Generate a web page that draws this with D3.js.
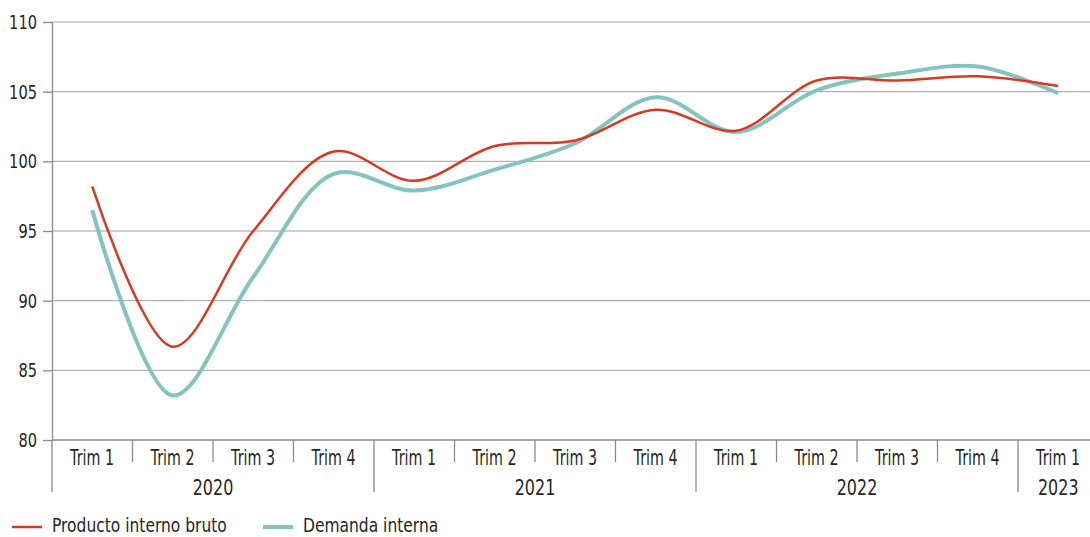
<!DOCTYPE html>
<html>
<head>
<meta charset="utf-8">
<script src="https://cdn.jsdelivr.net/npm/d3@7"></script>
<style>
  body { margin: 0; background: #fff; }
  svg text { font-family: "DejaVu Sans", sans-serif; fill: #262626; transform-box: fill-box; }
  .lab-end { transform-origin: right center; }
  .lab-mid { transform-origin: center center; }
  .lab-start { transform-origin: left center; }
</style>
</head>
<body>
<div id="chart"></div>
<script>
(function() {

var quarters = ["Trim 1","Trim 2","Trim 3","Trim 4","Trim 1","Trim 2","Trim 3","Trim 4","Trim 1","Trim 2","Trim 3","Trim 4","Trim 1"];
var years = ["2020","2021","2022","2023"];
var yearSizes = [4, 4, 4, 1];
var pib = [98.2, 86.7, 95.0, 100.7, 98.6, 101.1, 101.5, 103.7, 102.2, 105.8, 105.8, 106.1, 105.4];
var demanda = [96.5, 83.2, 91.7, 99.1, 97.9, 99.4, 101.3, 104.6, 102.1, 105.1, 106.3, 106.8, 104.9];
var yTicks = [80, 85, 90, 95, 100, 105, 110];
var seriesNames = ["Producto interno bruto", "Demanda interna"];
var seriesColors = ["#d8391f", "#85c3bf"];

var width = 1090, height = 537;
var left = 52, bandW = 80.5;

var idx = d3.range(quarters.length);

var x = d3.scaleBand()
    .domain(idx)
    .range([left, left + bandW * quarters.length])
    .padding(0);

var y = d3.scaleLinear()
    .domain([80, 110])
    .range([440, 22]);

var svg = d3.select("#chart").append("svg")
    .attr("width", width)
    .attr("height", height);

// grid
svg.append("g")
  .selectAll("line")
    .data(yTicks.slice(1))
  .enter().append("line")
    .attr("x1", left)
    .attr("x2", width)
    .attr("y1", function(d) { return y(d); })
    .attr("y2", function(d) { return y(d); })
    .style("stroke", "#a0a0a0")
    .style("stroke-width", 1);

// y axis
var yAxis = svg.append("g")
    .attr("transform", "translate(" + left + ",0)")
    .call(d3.axisLeft(y).tickValues(yTicks).tickSize(9).tickSizeOuter(0).tickPadding(6));
yAxis.attr("font-family", null).attr("font-size", null);
yAxis.select(".domain").style("stroke", "#8a8a8a").style("stroke-width", 1.3);
yAxis.selectAll(".tick line").style("stroke", "#8a8a8a").style("stroke-width", 1.3);
yAxis.selectAll("text")
    .attr("class", "lab-end")
    .style("font-size", "19px")
    .style("transform", "scaleX(0.77)")
    .attr("dy", "0.35em");

// x axis baseline
svg.append("line")
    .attr("x1", left).attr("x2", width)
    .attr("y1", y(80)).attr("y2", y(80))
    .style("stroke", "#8a8a8a").style("stroke-width", 1.5);

// year boundaries
var starts = [0];
yearSizes.forEach(function(n, i) { starts.push(starts[i] + n); });

// separators
svg.append("g")
  .selectAll("line")
    .data(d3.range(quarters.length))
  .enter().append("line")
    .attr("x1", function(d) { return x(d); })
    .attr("x2", function(d) { return x(d); })
    .attr("y1", y(80))
    .attr("y2", function(d) { return starts.indexOf(d) >= 0 ? 492 : 462; })
    .style("stroke", "#8a8a8a")
    .style("stroke-width", 1.3);

svg.append("g")
  .selectAll("text")
    .data(quarters)
  .enter().append("text")
    .attr("class", "lab-mid")
    .attr("x", function(d, i) { return x(i) + x.bandwidth() / 2; })
    .attr("y", 465)
    .attr("text-anchor", "middle")
    .style("font-size", "21px")
    .style("transform", "scaleX(0.68)")
    .text(function(d) { return d; });

svg.append("g")
  .selectAll("text")
    .data(years)
  .enter().append("text")
    .attr("class", "lab-mid")
    .attr("x", function(d, i) {
      var a = x(starts[i]), b = x(starts[i + 1] - 1) + x.bandwidth();
      return (a + b) / 2;
    })
    .attr("y", 495)
    .attr("text-anchor", "middle")
    .style("font-size", "21px")
    .style("transform", "scaleX(0.76)")
    .text(function(d) { return d; });

// lines
var line = d3.line()
    .x(function(d, i) { return x(i) + x.bandwidth() / 2; })
    .y(function(d) { return y(d); })
    .curve(d3.curveCatmullRom.alpha(0.5));

svg.append("path")
    .datum(demanda)
    .attr("d", line)
    .style("fill", "none")
    .style("stroke", seriesColors[1])
    .style("stroke-width", 4);

svg.append("path")
    .datum(pib)
    .attr("d", line)
    .style("fill", "none")
    .style("stroke", seriesColors[0])
    .style("stroke-width", 2.5);

// legend
var legX = [12, 263];
var leg = svg.append("g")
  .selectAll("g")
    .data(seriesNames)
  .enter().append("g")
    .attr("transform", function(d, i) { return "translate(" + legX[i] + ",527)"; });

leg.append("line")
    .attr("x1", 0).attr("x2", 30)
    .style("stroke", function(d, i) { return seriesColors[i]; })
    .style("stroke-width", function(d, i) { return i ? 4 : 2.5; });

leg.append("text")
    .attr("class", "lab-start")
    .attr("x", 40)
    .attr("y", 5)
    .style("font-size", "20px")
    .style("transform", "scaleX(0.775)")
    .text(function(d) { return d; });

})()
</script>
</body>
</html>
